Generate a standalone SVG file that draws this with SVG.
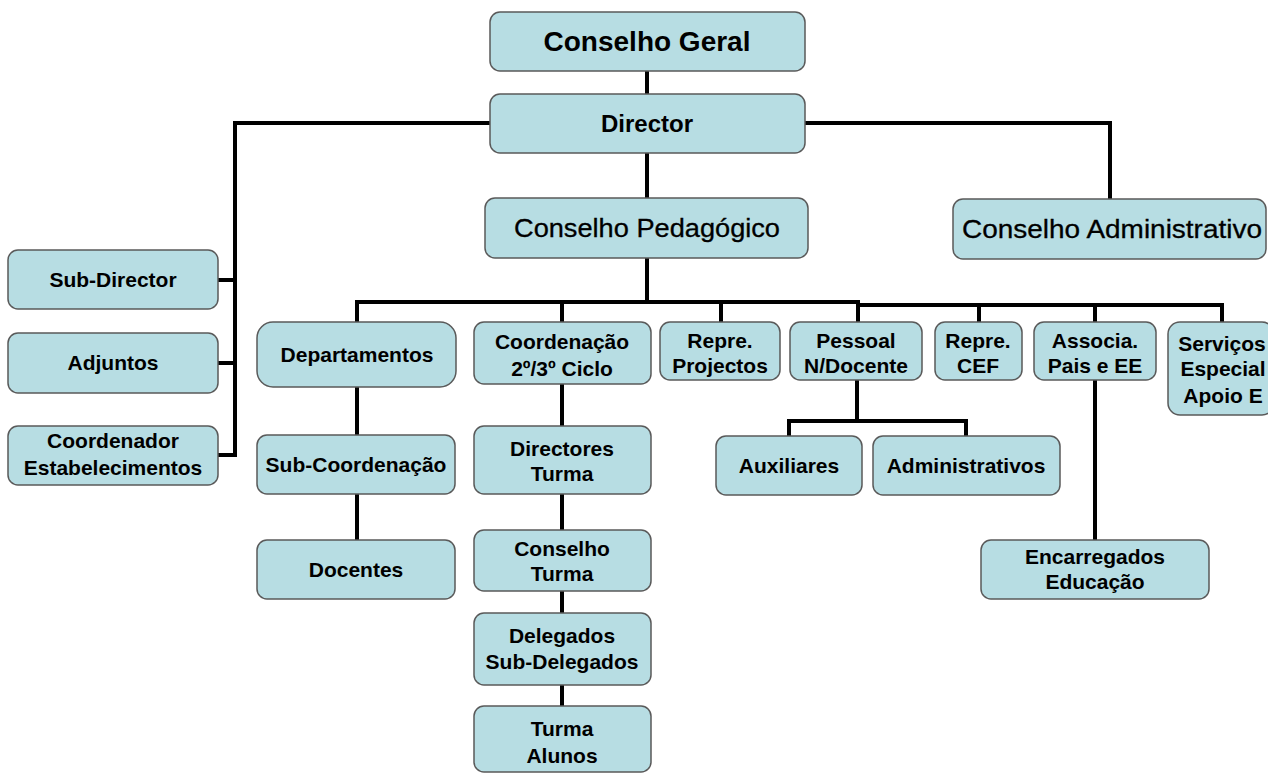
<svg xmlns="http://www.w3.org/2000/svg" width="1268" height="774" viewBox="0 0 1268 774">
<style>
.box{fill:#b7dde3;stroke:#5a5a5a;stroke-width:1.5}
.t{font-family:"Liberation Sans",Arial,sans-serif;font-size:21px;font-weight:bold;fill:#000;text-anchor:middle}
.m{font-weight:bold}
.big{font-weight:normal;font-size:26px;stroke:#000;stroke-width:0.3}
.c{fill:none;stroke:#000;stroke-width:4}
</style>
<rect width="1268" height="774" fill="#fff"/>
<g id="connectors" class="c">
<path d="M647,71 V94"/>
<path d="M647,153 V198"/>
<path d="M490,123 H235 V457"/>
<path d="M218,280 H235 M218,363 H235 M218,455 H235"/>
<path d="M805,123 H1110 V199"/>
<path d="M647,258 V302"/>
<path d="M357,322 V302 H858 V322"/>
<path d="M858,305 H1222 V322"/>
<path d="M562,302 V322 M721,302 V322 M979,305 V322 M1095,305 V322"/>
<path d="M357,387 V435 M357,494 V540"/>
<path d="M562,384 V426 M562,494 V530 M562,591 V613 M562,685 V706"/>
<path d="M857,380 V421 M789,436 V421 H966 V436"/>
<path d="M1095,380 V540"/>
</g>
<g id="conselho-geral"><rect class="box" x="490" y="12" width="315" height="59" rx="10"/><text class="t" x="647" y="51" style="font-size:28px">Conselho Geral</text></g>
<g id="director"><rect class="box" x="490" y="94" width="315" height="59" rx="10"/><text class="t" x="647" y="132" style="font-size:24px">Director</text></g>
<g id="conselho-pedagogico"><rect class="box" x="485" y="198" width="323" height="60" rx="10"/><text class="t big" x="647" y="237" textLength="266" lengthAdjust="spacingAndGlyphs">Conselho Pedagógico</text></g>
<g id="conselho-administrativo"><rect class="box" x="953" y="199" width="313" height="60" rx="10"/><text class="t big" x="1112" y="238" textLength="300" lengthAdjust="spacingAndGlyphs">Conselho Administrativo</text></g>
<g id="sub-director"><rect class="box" x="8" y="250" width="210" height="59" rx="10"/><text class="t" x="113" y="287">Sub-Director</text></g>
<g id="adjuntos"><rect class="box" x="8" y="333" width="210" height="60" rx="10"/><text class="t" x="113" y="370">Adjuntos</text></g>
<g id="coordenador"><rect class="box" x="8" y="426" width="210" height="59" rx="10"/><text class="t" x="113" y="448">Coordenador</text><text class="t" x="113" y="475">Estabelecimentos</text></g>
<g id="departamentos"><rect class="box" x="257" y="322" width="199" height="65" rx="16"/><text class="t" x="357" y="362">Departamentos</text></g>
<g id="coordenacao"><rect class="box" x="474" y="322" width="177" height="62" rx="10"/><text class="t m" x="562" y="349">Coordenação</text><text class="t m" x="562" y="376">2º/3º Ciclo</text></g>
<g id="repre-projectos"><rect class="box" x="660" y="322" width="120" height="58" rx="10"/><text class="t m" x="720" y="348">Repre.</text><text class="t m" x="720" y="373">Projectos</text></g>
<g id="pessoal"><rect class="box" x="790" y="322" width="132" height="58" rx="10"/><text class="t m" x="856" y="348">Pessoal</text><text class="t m" x="856" y="373">N/Docente</text></g>
<g id="repre-cef"><rect class="box" x="935" y="322" width="87" height="58" rx="10"/><text class="t m" x="978" y="348">Repre.</text><text class="t m" x="978" y="373">CEF</text></g>
<g id="associa"><rect class="box" x="1034" y="322" width="122" height="58" rx="10"/><text class="t m" x="1095" y="348">Associa.</text><text class="t m" x="1095" y="373">Pais e EE</text></g>
<g id="servicos"><rect class="box" x="1168" y="322" width="106" height="93" rx="12"/><text class="t" x="1222" y="351">Serviços</text><text class="t" x="1223" y="376">Especial</text><text class="t" x="1223" y="403">Apoio E</text></g>
<g id="sub-coordenacao"><rect class="box" x="257" y="435" width="198" height="59" rx="10"/><text class="t" x="356" y="472">Sub-Coordenação</text></g>
<g id="docentes"><rect class="box" x="257" y="540" width="198" height="59" rx="10"/><text class="t" x="356" y="577">Docentes</text></g>
<g id="directores-turma"><rect class="box" x="474" y="426" width="177" height="68" rx="10"/><text class="t" x="562" y="456">Directores</text><text class="t" x="562" y="481">Turma</text></g>
<g id="conselho-turma"><rect class="box" x="474" y="530" width="177" height="61" rx="10"/><text class="t m" x="562" y="556">Conselho</text><text class="t" x="562" y="581">Turma</text></g>
<g id="delegados"><rect class="box" x="474" y="613" width="177" height="72" rx="10"/><text class="t" x="562" y="643">Delegados</text><text class="t" x="562" y="669">Sub-Delegados</text></g>
<g id="turma-alunos"><rect class="box" x="474" y="706" width="177" height="66" rx="10"/><text class="t" x="562" y="736">Turma</text><text class="t" x="562" y="763">Alunos</text></g>
<g id="auxiliares"><rect class="box" x="716" y="436" width="146" height="59" rx="10"/><text class="t" x="789" y="473">Auxiliares</text></g>
<g id="administrativos"><rect class="box" x="873" y="436" width="187" height="59" rx="10"/><text class="t" x="966" y="473">Administrativos</text></g>
<g id="encarregados"><rect class="box" x="981" y="540" width="228" height="59" rx="10"/><text class="t m" x="1095" y="564">Encarregados</text><text class="t m" x="1095" y="589">Educação</text></g>
</svg>
